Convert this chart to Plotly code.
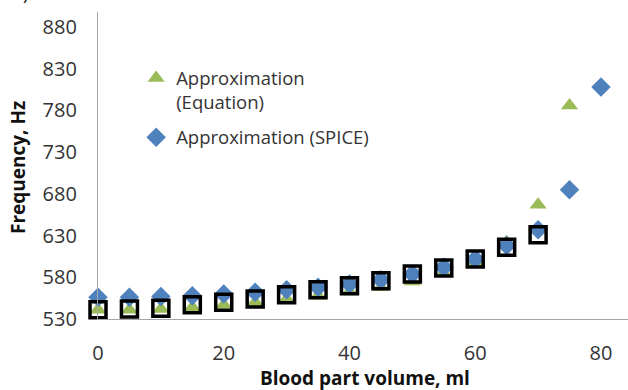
import plotly.graph_objects as go

volume_measured = [0, 5, 10, 15, 20, 25, 30, 35, 40, 45, 50, 55, 60, 65, 70]
freq_measured = [541, 542, 543, 547, 550, 554, 559, 565, 570, 576, 584, 591, 602, 616, 631]

volume_equation = [0, 5, 10, 15, 20, 25, 30, 35, 40, 45, 50, 55, 60, 65, 70, 75]
freq_equation = [541, 541, 542, 544, 547, 550, 554, 558, 563, 568, 575, 585, 598, 622, 667, 786]

volume_spice = [0, 5, 10, 15, 20, 25, 30, 35, 40, 45, 50, 55, 60, 65, 70, 75, 80]
freq_spice = [556, 556, 557, 558, 560, 562, 565, 568, 572, 577, 584, 592, 602, 618, 637, 685, 808]

x_ticks = [0, 20, 40, 60, 80]
y_ticks = [530, 580, 630, 680, 730, 780, 830, 880]

FONT = "Open Sans"
TXT = "#333333"

fig = go.Figure()
fig.add_trace(go.Scatter(
    x=volume_equation, y=freq_equation, mode="markers",
    name="Approximation<br>(Equation)", cliponaxis=False, legendgroup="a",
    marker=dict(symbol="triangle-up", size=15, color="#9BBB59", line=dict(width=0)),
))
fig.add_trace(go.Scatter(
    x=volume_spice, y=freq_spice, mode="markers",
    name="Approximation (SPICE)", cliponaxis=False, legendgroup="b",
    marker=dict(symbol="diamond", size=15, color="#4F81BD", line=dict(width=0)),
))
fig.add_trace(go.Scatter(
    x=volume_measured, y=freq_measured, mode="markers",
    name="Measured", showlegend=False, cliponaxis=False,
    marker=dict(symbol="square-open", size=16, color="#000000", line=dict(width=3.5, color="#000000")),
))

fig.update_layout(
    width=628, height=390,
    margin=dict(l=98, r=0, t=12, b=71, autoexpand=False),
    paper_bgcolor="white", plot_bgcolor="white",
    font=dict(family=FONT, size=18, color=TXT),
    showlegend=True,
    legend=dict(
        x=0.072, y=0.845, xanchor="left", yanchor="top",
        bgcolor="rgba(0,0,0,0)", valign="top",
        font=dict(family=FONT, size=18.5, color=TXT),
        tracegroupgap=8,
    ),
    xaxis=dict(
        range=[0, 84.3], tickvals=x_ticks, ticktext=[str(v) for v in x_ticks],
        showgrid=False, zeroline=False, showline=True, linecolor="#A6A6A6", linewidth=1.3,
        ticks="", tickfont=dict(family=FONT, size=20, color=TXT), ticklabelstandoff=16,
        automargin=False,
    ),
    yaxis=dict(
        range=[530, 898], tickvals=y_ticks, ticktext=[str(v) for v in y_ticks],
        showgrid=False, zeroline=False, showline=True, linecolor="#A6A6A6", linewidth=1.3,
        ticks="", tickfont=dict(family=FONT, size=20, color=TXT), ticklabelstandoff=16,
        automargin=False,
    ),
    annotations=[
        dict(text="<b>Blood part volume, ml</b>", xref="paper", yref="paper",
             x=(365 - 98) / 530, y=(319 - 378) / 307, xanchor="center", yanchor="middle",
             showarrow=False, font=dict(family=FONT, size=19, color="#111111")),
        dict(text="<b>Frequency, Hz</b>", xref="paper", yref="paper",
             x=(18 - 98) / 530, y=(319 - 168) / 307, xanchor="center", yanchor="middle",
             textangle=-90, showarrow=False, font=dict(family=FONT, size=19, color="#111111")),
        dict(text="b)", xref="paper", yref="paper",
             x=(10 - 98) / 530, y=1 + (12 - 7) / 307, xanchor="left", yanchor="bottom",
             showarrow=False, font=dict(family=FONT, size=18, color="#111111")),
    ],
)

fig.write_html(
    "out.html",
    config={"displayModeBar": False},
    post_script="document.body.style.margin='0';document.body.style.overflow='hidden';",
)
